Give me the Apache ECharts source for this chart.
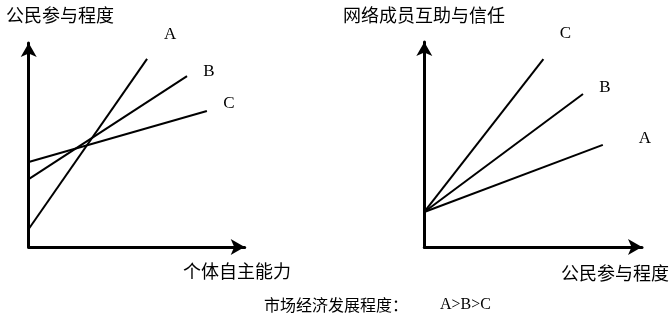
<!DOCTYPE html>
<html><head><meta charset="utf-8">
<script src="https://cdn.jsdelivr.net/npm/echarts@6/dist/echarts.min.js"></script>
<style>html,body{margin:0;padding:0;background:#fff}#c{width:672px;height:321px}</style>
</head><body><div id="c"></div>
<script>
// Left panel: 个体自主能力 -> 公民参与程度
const leftNames = ['A', 'B', 'C'];
const leftA = [[0, 8.8], [54.8, 92.2]];
const leftB = [[0, 33.3], [73.3, 83.8]];
const leftC = [[0, 41.7], [82.5, 66.7]];
// Right panel: 公民参与程度 -> 网络成员互助与信任
const rightNames = ['C', 'B', 'A'];
const rightC = [[0, 17.1], [54.7, 91.7]];
const rightB = [[0, 17.1], [72.9, 74.6]];
const rightA = [[0, 17.1], [82.0, 49.8]];
const leftYTitle = '公民参与程度';
const leftXTitle = '个体自主能力';
const rightYTitle = '网络成员互助与信任';
const rightXTitle = '公民参与程度';
const captionLabel = '市场经济发展程度：';
const captionOrder = 'A>B>C';

const cjk = '"Noto Sans CJK SC", "Noto Sans", sans-serif';
const serif = '"Liberation Serif", "DejaVu Serif", serif';

function axis(gi) {
  return {
    type: 'value', gridIndex: gi, min: 0, max: 100,
    axisLine: { show: true, symbol: ['none', 'arrow'], symbolSize: [12, 14],
      lineStyle: { color: '#000', width: 3 } },
    axisTick: { show: false }, axisLabel: { show: false }, splitLine: { show: false }
  };
}
function line(gi, name, data, off) {
  return {
    type: 'line', xAxisIndex: gi, yAxisIndex: gi, name: name,
    symbol: 'circle', symbolSize: 0.01, showSymbol: true, silent: true, animation: false,
    itemStyle: { color: '#000' },
    lineStyle: { color: '#000', width: 2 },
    labelLayout: { hideOverlap: false },
    data: data.map((p, i) => i === data.length - 1 ? {
      value: p,
      label: { show: true, formatter: name, position: off, align: 'center', verticalAlign: 'middle',
        color: '#000', fontFamily: serif, fontSize: 17 }
    } : { value: p, label: { show: false } })
  };
}
const titleStyle = { fontFamily: cjk, fontSize: 18, fontWeight: 'normal', color: '#000' };
const chart = echarts.init(document.getElementById('c'), null, { renderer: 'canvas' });
chart.setOption({
  animation: false,
  grid: [
    { left: 28.7, top: 43, width: 216, height: 204 },
    { left: 424.3, top: 42, width: 217.7, height: 205 }
  ],
  xAxis: [axis(0), axis(1)],
  yAxis: [axis(0), axis(1)],
  title: [
    { text: leftYTitle, left: 6, top: 6, textStyle: titleStyle, padding: 0 },
    { text: leftXTitle, left: 183, top: 262, textStyle: titleStyle, padding: 0 },
    { text: rightYTitle, left: 343, top: 6, textStyle: titleStyle, padding: 0 },
    { text: rightXTitle, left: 561, top: 264, textStyle: titleStyle, padding: 0 },
    { text: '{a|' + captionLabel + '}{b|' + captionOrder + '}', left: 264, top: 297, padding: 0,
      textStyle: { fontSize: 16, color: '#000', fontWeight: 'normal',
        rich: {
          a: { fontFamily: cjk, fontSize: 16, color: '#000' },
          b: { fontFamily: serif, fontSize: 16, color: '#000', padding: [0, 0, 0, 32] }
        } } }
  ],
  series: [
    line(0, leftNames[0], leftA, [23, -24]),
    line(0, leftNames[1], leftB, [22, -5]),
    line(0, leftNames[2], leftC, [22, -7]),
    line(1, rightNames[0], rightC, [22, -25]),
    line(1, rightNames[1], rightB, [22, -7]),
    line(1, rightNames[2], rightA, [42, -6])
  ]
});
</script></body></html>
